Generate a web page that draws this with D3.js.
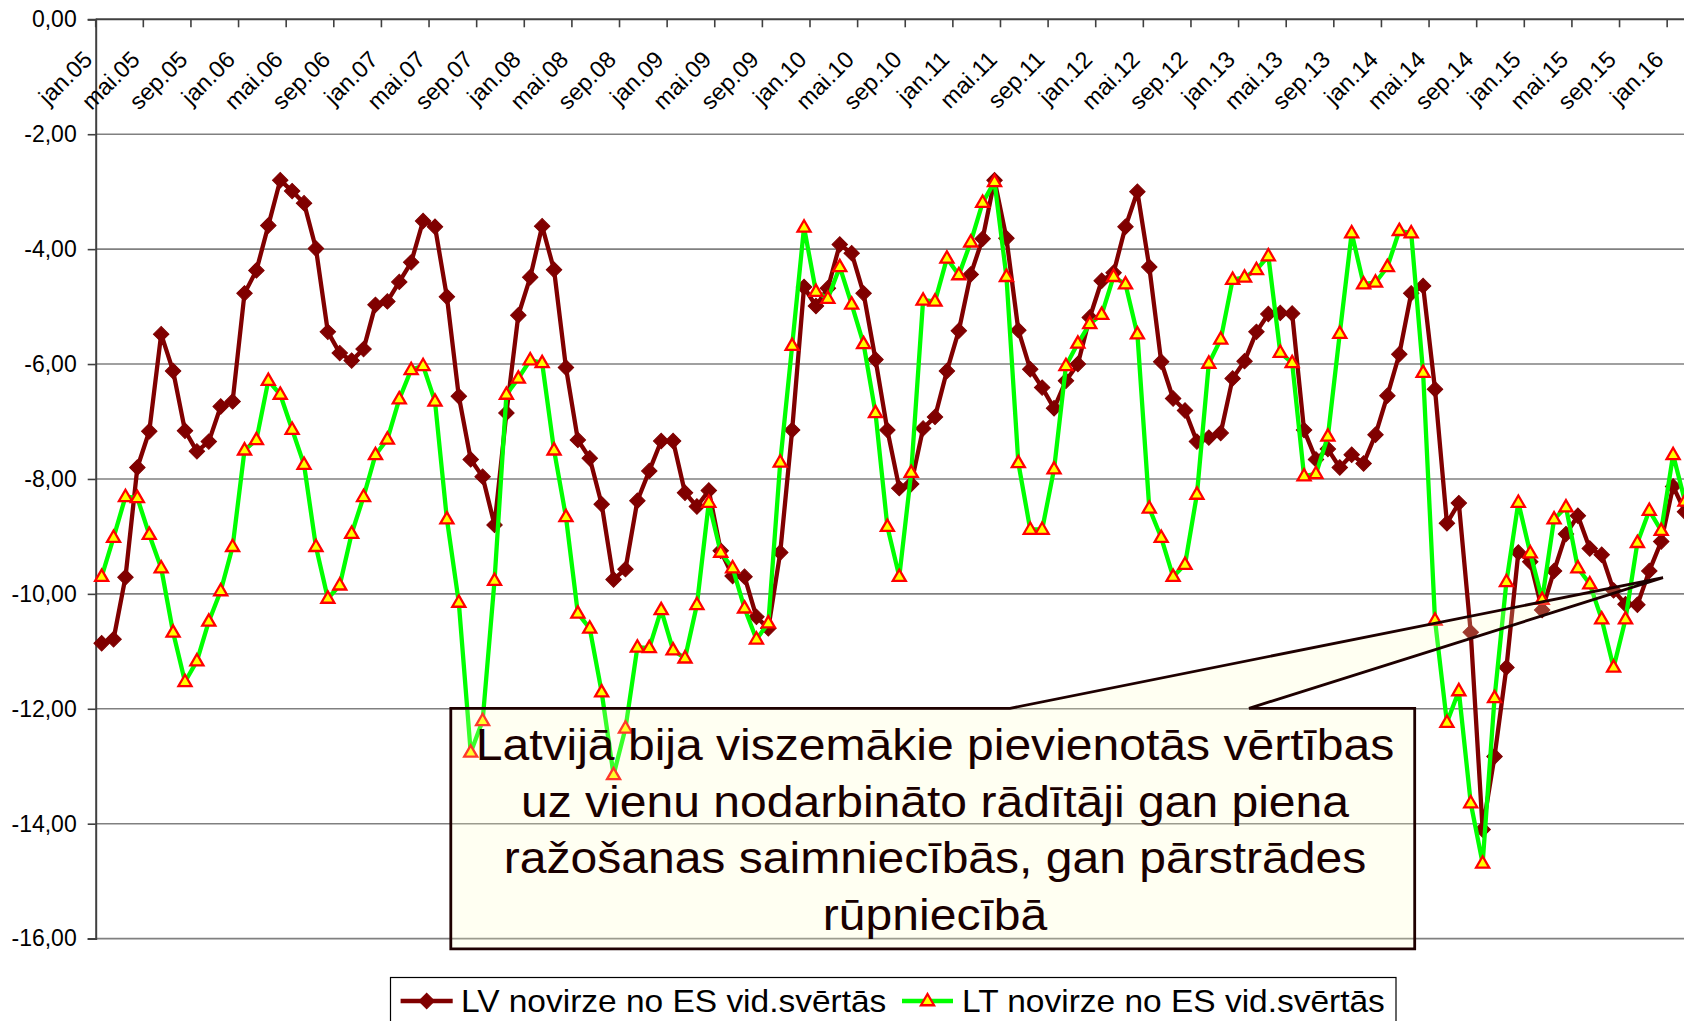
<!DOCTYPE html>
<html>
<head>
<meta charset="utf-8">
<script src="https://cdn.jsdelivr.net/npm/d3@7"></script>
<style>
  body { margin: 0; background: #fff; }
  svg { display: block; }
  text { font-family: "Liberation Sans", Arial, sans-serif; }
</style>
</head>
<body>
<svg id="chart" width="1684" height="1021"></svg>
<script>
// months jan.05 .. feb.16
var monthNames = ["jan", "feb", "mar", "apr", "mai", "jūn", "jūl", "aug", "sep", "okt", "nov", "dec"];
var years = ["05", "06", "07", "08", "09", "10", "11", "12", "13", "14", "15", "16"];
var categories = years.flatMap(function (yr) { return monthNames.map(function (m) { return m + "." + yr; }); }).slice(0, 134);

var tickLabels = ["jan.05", "mai.05", "sep.05", "jan.06", "mai.06", "sep.06", "jan.07", "mai.07", "sep.07",
    "jan.08", "mai.08", "sep.08", "jan.09", "mai.09", "sep.09", "jan.10", "mai.10", "sep.10",
    "jan.11", "mai.11", "sep.11", "jan.12", "mai.12", "sep.12", "jan.13", "mai.13", "sep.13",
    "jan.14", "mai.14", "sep.14", "jan.15", "mai.15", "sep.15", "jan.16"];

var yTicks = [0, -2, -4, -6, -8, -10, -12, -14, -16];

var lvValues = [
    -10.86, -10.79, -9.71, -7.80, -7.17, -5.48, -6.12, -7.16, -7.52, -7.35, -6.74, -6.65,
    -4.77, -4.37, -3.59, -2.80, -2.99, -3.20, -3.99, -5.44, -5.81, -5.94, -5.74, -4.97,
    -4.91, -4.57, -4.23, -3.51, -3.61, -4.83, -6.56, -7.66, -7.96, -8.80, -6.85, -5.15,
    -4.49, -3.60, -4.36, -6.06, -7.32, -7.64, -8.44, -9.75, -9.57, -8.38, -7.86, -7.34,
    -7.34, -8.24, -8.48, -8.20, -9.25, -9.69, -9.70, -10.40, -10.60, -9.28, -7.15, -4.66,
    -4.99, -4.68, -3.92, -4.07, -4.77, -5.92, -7.15, -8.16, -8.09, -7.12, -6.92, -6.12,
    -5.42, -4.44, -3.82, -2.80, -3.81, -5.41, -6.09, -6.41, -6.77, -6.29, -6.00, -5.19,
    -4.55, -4.41, -3.61, -3.00, -4.31, -5.96, -6.60, -6.81, -7.35, -7.28, -7.20, -6.25,
    -5.95, -5.44, -5.13, -5.11, -5.12, -7.15, -7.66, -7.48, -7.80, -7.58, -7.73, -7.23,
    -6.55, -5.83, -4.77, -4.64, -6.44, -8.77, -8.42, -10.67, -14.10, -12.83, -11.28, -9.28,
    -9.44, -10.28, -9.60, -8.96, -8.64, -9.21, -9.32, -9.94, -10.18, -10.19, -9.60, -9.09,
    -8.13, -8.57
];

var ltValues = [
    -9.70, -9.02, -8.31, -8.33, -8.97, -9.55, -10.67, -11.53, -11.17, -10.48, -9.95, -9.18,
    -7.50, -7.32, -6.29, -6.53, -7.14, -7.75, -9.18, -10.08, -9.85, -8.95, -8.31, -7.58,
    -7.31, -6.61, -6.10, -6.03, -6.65, -8.70, -10.15, -12.76, -12.21, -9.77, -6.53, -6.25,
    -5.93, -5.98, -7.50, -8.66, -10.34, -10.60, -11.71, -13.15, -12.34, -10.93, -10.94, -10.28,
    -10.98, -11.12, -10.19, -8.41, -9.28, -9.55, -10.25, -10.79, -10.51, -7.71, -5.68, -3.62,
    -4.74, -4.86, -4.31, -4.96, -5.65, -6.85, -8.83, -9.70, -7.89, -4.89, -4.91, -4.16,
    -4.45, -3.88, -3.19, -2.83, -4.48, -7.72, -8.88, -8.88, -7.83, -6.03, -5.64, -5.30,
    -5.14, -4.48, -4.61, -5.48, -8.51, -9.02, -9.70, -9.49, -8.27, -5.99, -5.57, -4.53,
    -4.49, -4.36, -4.12, -5.80, -5.98, -7.95, -7.91, -7.26, -5.47, -3.72, -4.61, -4.58,
    -4.31, -3.68, -3.72, -6.15, -10.46, -12.24, -11.69, -13.64, -14.69, -11.81, -9.79, -8.41,
    -9.29, -10.10, -8.70, -8.49, -9.55, -9.83, -10.44, -11.28, -10.44, -9.11, -8.55, -8.90,
    -7.58, -8.39
];

var seriesNames = ["LV novirze no ES vid.svērtās", "LT novirze no ES vid.svērtās"];
var noteLines = [
    "Latvijā bija viszemākie pievienotās vērtības",
    "uz vienu nodarbināto rādītāji gan piena",
    "ražošanas saimniecībās, gan pārstrādes",
    "rūpniecībā"
];

var svg = d3.select("#chart");
var plotLeft = 95.7, plotTop = 19.3, plotBottom = 938.6;
var monthW = 11.905;
var plotRight = plotLeft + categories.length * monthW;

var x = d3.scaleBand().domain(categories).range([plotLeft, plotRight]).padding(0);
var y = d3.scaleLinear().domain([-16, 0]).range([plotBottom, plotTop]);
var cx = function (c) { return x(c) + x.bandwidth() / 2; };

// grid
svg.append("g").selectAll("line")
    .data(yTicks.filter(function (d) { return d < 0; }))
    .enter().append("line")
    .attr("x1", plotLeft).attr("x2", plotRight)
    .attr("y1", function (d) { return y(d); }).attr("y2", function (d) { return y(d); })
    .attr("stroke", "#808080").attr("stroke-width", 1.6);

// y axis
var fmt = function (d) { return d3.format(".2f")(d).replace(".", ",").replace("\u2212", "-"); };
var yAxis = svg.append("g")
    .attr("transform", "translate(" + plotLeft + ",0)")
    .call(d3.axisLeft(y).tickValues(yTicks).tickSize(8).tickPadding(11).tickFormat(fmt));
yAxis.select(".domain").attr("stroke", "#404040").attr("stroke-width", 2);
yAxis.selectAll(".tick line").attr("stroke", "#404040").attr("stroke-width", 1.6);
yAxis.selectAll(".tick text").attr("font-size", 23).attr("fill", "#000")
    .attr("font-family", "Liberation Sans, Arial, sans-serif");

// x axis along the top (value 0)
svg.append("line")
    .attr("x1", plotLeft).attr("x2", plotRight).attr("y1", plotTop).attr("y2", plotTop)
    .attr("stroke", "#404040").attr("stroke-width", 2);
svg.append("g").selectAll("line")
    .data(tickLabels)
    .enter().append("line")
    .attr("x1", function (d) { return x(d); }).attr("x2", function (d) { return x(d); })
    .attr("y1", plotTop).attr("y2", plotTop + 8)
    .attr("stroke", "#404040").attr("stroke-width", 1.6);
svg.append("g").selectAll("text")
    .data(tickLabels)
    .enter().append("text")
    .attr("transform", function (d) { return "translate(" + (cx(d) - 8) + ",61) rotate(-45)"; })
    .attr("text-anchor", "end")
    .attr("font-size", 23.5)
    .attr("fill", "#000")
    .text(function (d) { return d; });

// series
var line = d3.line().x(function (d) { return cx(d.c); }).y(function (d) { return y(d.v); });
var lvData = categories.map(function (c, i) { return { c: c, v: lvValues[i] }; });
var ltData = categories.map(function (c, i) { return { c: c, v: ltValues[i] }; });

var diamond = d3.symbol().type(d3.symbolSquare).size(120);
var triangle = d3.symbol().type(d3.symbolTriangle).size(74);

svg.append("path").datum(lvData)
    .attr("d", line).attr("fill", "none")
    .attr("stroke", "#800000").attr("stroke-width", 4.3).attr("stroke-linejoin", "round");
svg.append("g").selectAll("path")
    .data(lvData)
    .enter().append("path")
    .attr("d", diamond)
    .attr("transform", function (d) { return "translate(" + cx(d.c) + "," + y(d.v) + ") rotate(45)"; })
    .attr("fill", "#800000").attr("stroke", "#800000").attr("stroke-width", 1);

svg.append("path").datum(ltData)
    .attr("d", line).attr("fill", "none")
    .attr("stroke", "#00ff00").attr("stroke-width", 4.3).attr("stroke-linejoin", "round");
svg.append("g").selectAll("path")
    .data(ltData)
    .enter().append("path")
    .attr("d", triangle)
    .attr("transform", function (d) { return "translate(" + cx(d.c) + "," + (y(d.v) + 0.5) + ")"; })
    .attr("fill", "#ffff00").attr("stroke", "#ff0000").attr("stroke-width", 2.3);

// callout box with pointer
var bx0 = 450.8, bx1 = 1414.7, by0 = 708.3, by1 = 948.8;
var tip = [1663, 577.7];
var callout = d3.path();
callout.moveTo(bx0, by0);
callout.lineTo(1010, by0);
callout.lineTo(tip[0], tip[1]);
callout.lineTo(1249, by0);
callout.lineTo(bx1, by0);
callout.lineTo(bx1, by1);
callout.lineTo(bx0, by1);
callout.closePath();
svg.append("path")
    .attr("d", callout.toString())
    .attr("fill", "#ffffc4").attr("fill-opacity", 0.22)
    .attr("stroke", "#1e0000").attr("stroke-width", 2.8).attr("stroke-linejoin", "miter");

var note = svg.append("g").attr("transform", "translate(935,0)");
note.selectAll("text")
    .data(noteLines)
    .enter().append("text")
    .attr("transform", function (d, i) { return "translate(0," + (760 + i * 56.7) + ") scale(1.08,1)"; })
    .attr("text-anchor", "middle")
    .attr("font-size", 44.5)
    .attr("fill", "#1a0000")
    .text(function (d) { return d; });

// legend
var legend = svg.append("g");
legend.append("rect")
    .attr("x", 390.5).attr("y", 977.5).attr("width", 1005.5).attr("height", 60)
    .attr("fill", "#fff").attr("stroke", "#000").attr("stroke-width", 1.2);

var legItems = [
    { name: seriesNames[0], x0: 400.6, x1: 452.7, tx: 461, color: "#800000", sym: "diamond" },
    { name: seriesNames[1], x0: 902, x1: 953, tx: 962, color: "#00ff00", sym: "triangle" }
];
legItems.forEach(function (it) {
    legend.append("line")
        .attr("x1", it.x0).attr("x2", it.x1).attr("y1", 1001).attr("y2", 1001)
        .attr("stroke", it.color).attr("stroke-width", 4.3);
    var mx = (it.x0 + it.x1) / 2;
    if (it.sym === "diamond") {
        legend.append("path").attr("d", diamond)
            .attr("transform", "translate(" + mx + ",1001) rotate(45)")
            .attr("fill", "#800000").attr("stroke", "#800000");
    } else {
        legend.append("path").attr("d", triangle)
            .attr("transform", "translate(" + mx + ",1001.5)")
            .attr("fill", "#ffff00").attr("stroke", "#ff0000").attr("stroke-width", 2.3);
    }
    legend.append("text")
        .attr("transform", "translate(" + it.tx + ",1011.7) scale(1.08,1)")
        .attr("font-size", 31)
        .attr("fill", "#000")
        .text(it.name);
});
</script>
</body>
</html>
